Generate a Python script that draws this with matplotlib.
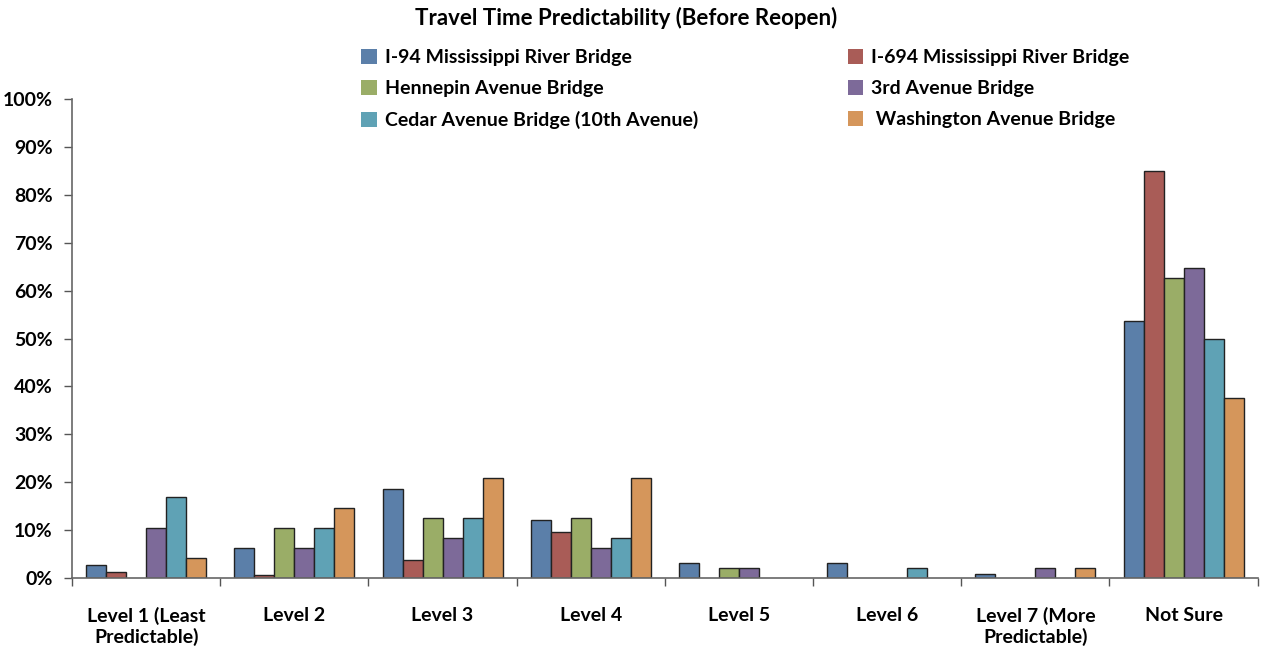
import numpy as np
import matplotlib
matplotlib.use('Agg')
import matplotlib.pyplot as plt
from matplotlib.patches import Patch
from matplotlib.ticker import PercentFormatter, FixedLocator

plt.rcParams['font.family'] = ['Lato', 'DejaVu Sans']
plt.rcParams['font.weight'] = 'bold'

# categories and series (percent of respondents)
categories = ['Level 1 (Least\nPredictable)', 'Level 2', 'Level 3', 'Level 4',
              'Level 5', 'Level 6', 'Level 7 (More\nPredictable)', 'Not Sure']
series_names = ['I-94 Mississippi River Bridge', 'I-694 Mississippi River Bridge',
                'Hennepin Avenue Bridge', '3rd Avenue Bridge',
                'Cedar Avenue Bridge (10th Avenue)', ' Washington Avenue Bridge']
i94 = [2.7, 6.3, 18.5, 12.1, 3.1, 3.1, 0.8, 53.7]
i694 = [1.3, 0.6, 3.7, 9.5, 0.0, 0.0, 0.0, 85.0]
hennepin = [0.0, 10.5, 12.6, 12.6, 2.0, 0.0, 0.0, 62.6]
third = [10.5, 6.3, 8.3, 6.2, 2.0, 0.0, 2.0, 64.7]
cedar = [16.8, 10.5, 12.6, 8.3, 0.0, 2.0, 0.0, 49.9]
washington = [4.2, 14.6, 20.8, 20.8, 0.0, 0.0, 2.0, 37.5]
series = [i94, i694, hennepin, third, cedar, washington]
colors = ['#5b7fa9', '#a95c57', '#9aad67', '#7d6a99', '#5fa2b5', '#d5965b']

fig = plt.figure(figsize=(12.64, 6.53), dpi=100)
ax = fig.add_axes([0.057, 0.115, 0.938, 0.733])

x = np.arange(len(categories))
w = 0.135
handles = []
for i, (vals, c) in enumerate(zip(series, colors)):
    vals = np.array(vals)
    pos = x + (i - 2.5) * w
    keep = vals > 0
    ax.bar(pos[keep], vals[keep], width=w, color=c, edgecolor='#222222', linewidth=1.0)
    handles.append(Patch(facecolor=c, edgecolor='none', label=series_names[i]))

ax.set_xlim(-0.5, len(categories) - 0.5)
ax.set_ylim(0, 100)
ax.set_yticks(np.arange(0, 101, 10))
ax.yaxis.set_major_formatter(PercentFormatter(decimals=0))
ax.set_xticks(x)
ax.set_xticklabels(categories, fontsize=14, fontweight='bold')
ax.xaxis.set_minor_locator(FixedLocator(np.arange(-0.5, len(categories), 1.0)))
ax.tick_params(axis='x', which='major', length=0, pad=21)
ax.tick_params(axis='x', which='minor', length=6, width=1, color='#555555', direction='out')
ax.tick_params(axis='y', length=6, width=1, color='#555555', direction='out', labelsize=14, pad=8)
for lab in ax.get_yticklabels():
    lab.set_fontweight('bold')
for s in ['top', 'right']:
    ax.spines[s].set_visible(False)
for s in ['left', 'bottom']:
    ax.spines[s].set_color('#666666')
    ax.spines[s].set_linewidth(1.2)

order = [0, 2, 4, 1, 3, 5]
fig.legend([handles[i] for i in order], [series_names[i] for i in order],
           ncol=2, loc='upper left', bbox_to_anchor=(0.272, 0.952), frameon=False,
           fontsize=14, handlelength=0.8, handleheight=0.8, handletextpad=0.4,
           columnspacing=7.7, labelspacing=0.72)

fig.text(0.495, 0.972, 'Travel Time Predictability (Before Reopen)', ha='center', va='center',
         fontsize=16, fontweight='bold')

fig.savefig('out.png', dpi=100)
